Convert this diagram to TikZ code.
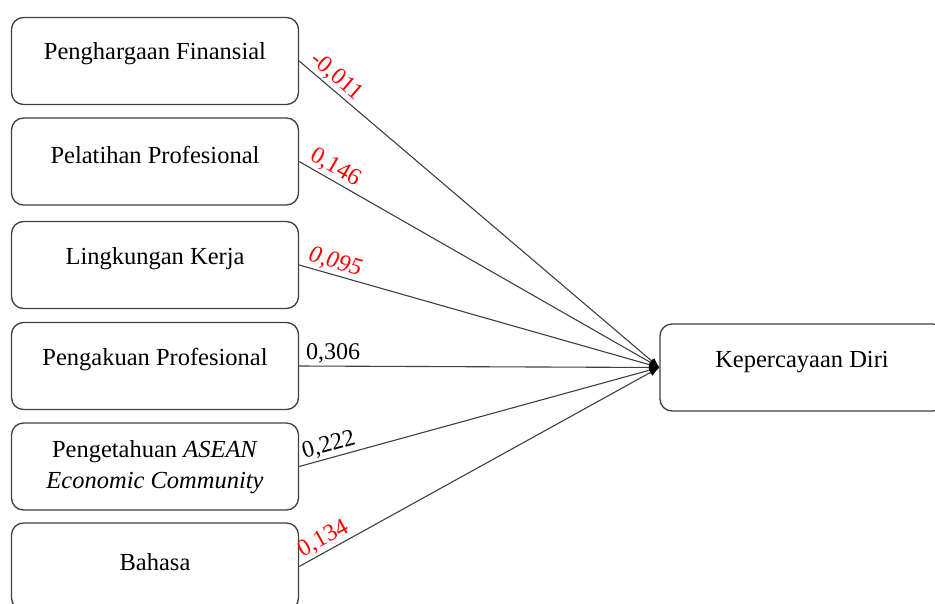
\documentclass[tikz,border=0pt]{standalone}
\usepackage{fontspec}
\setmainfont{Liberation Serif}
\usetikzlibrary{arrows.meta}
\begin{document}
\begin{tikzpicture}[x=1pt,y=-1pt,
  varbox/.style={draw=black!75, line width=1.3pt, rounded corners=12pt, minimum width=287pt, minimum height=87pt, inner sep=0pt, fill=white},
  vartext/.style={font=\fontsize{24.5}{31}\selectfont, align=center, inner sep=0pt, anchor=center},
  path/.style={draw=black!75, line width=1.1pt, -{Latex[length=10pt,width=8pt,black]}},
  coef/.style={font=\fontsize{24}{26}\selectfont, sloped, anchor=south west, pos=0.012, inner sep=2pt},
  redc/.style={coef, text=red}
]
\useasboundingbox (0,0) rectangle (935,603);
\clip (0,0) rectangle (935,603);
\fill[white] (0,0) rectangle (935,603);

\node[varbox] (b1) at (155,61) {};
\node[varbox] (b2) at (155,161.5) {};
\node[varbox] (b3) at (155,265) {};
\node[varbox] (b4) at (155,366) {};
\node[varbox] (b5) at (155,466.5) {};
\node[varbox] (b6) at (155,566.5) {};
\node[varbox, minimum width=285pt] (r) at (802.5,367.5) {};

\node[vartext] (t1) at (155,54) {Penghargaan Finansial};
\node[vartext] (t2) at (155,155) {Pelatihan Profesional};
\node[vartext] (t3) at (155,259) {Lingkungan Kerja};
\node[vartext] (t4) at (155,360) {Pengakuan Profesional};
\node[vartext] (t5) at (155,467) {Pengetahuan \textit{ASEAN}\\\textit{Economic Community}};
\node[vartext] (t6) at (155,562) {Bahasa};
\node[vartext] (tr) at (802,362) {Kepercayaan Diri};

\draw[path] (b1.east) -- node[redc] {-0,011} (r.west);
\draw[path] (b2.east) -- node[redc] {0,146} (r.west);
\draw[path] (b3.east) -- node[redc] {\textit{0,095}} (r.west);
\draw[path] (b4.east) -- node[coef] {0,306} (r.west);
\draw[path] (b5.east) -- node[coef] {0,222} (r.west);
\draw[path] (b6.east) -- node[redc] {0,134} (r.west);
\end{tikzpicture}
\end{document}
